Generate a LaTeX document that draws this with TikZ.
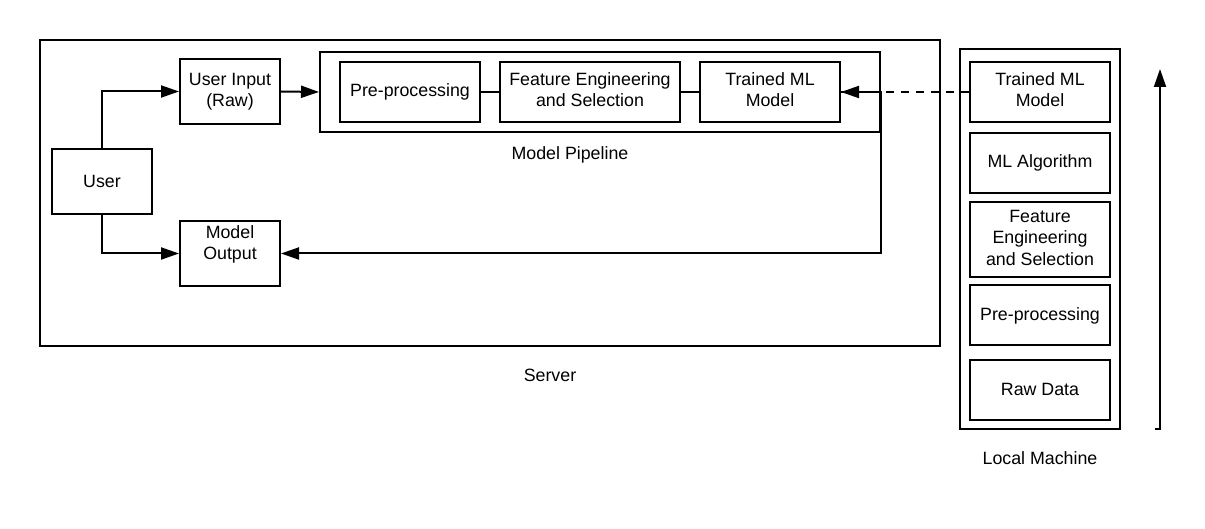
\documentclass[tikz,border=0pt]{standalone}
\usepackage{fontspec}
\setmainfont{Liberation Sans}
\usetikzlibrary{arrows.meta}
\begin{document}
\begin{tikzpicture}[x=1pt,y=-1pt,
  every node/.style={font=\fontsize{17.8}{21.5}\selectfont, align=center, inner sep=0pt},
  box/.style={draw, line width=2pt},
  arr/.style={line width=2pt, -{Triangle[length=18pt,width=12pt]}},
  conn/.style={line width=2pt},
  dashconn/.style={line width=2pt, dash pattern=on 8pt off 7pt, -{Triangle[length=18pt,width=12pt]}}]
\useasboundingbox (0,0) rectangle (1205,529);
\fill[white] (0,0) rectangle (1205,529);
% containers
\node[box, minimum width=900pt, minimum height=306pt] (server) at (490,193) {};
\node (serverlbl) at (550,375) {Server};
\node[box, minimum width=560pt, minimum height=80pt] (pipe) at (600,92) {};
\node (pipelbl) at (570,155) {Model Pipeline};
\node[box, minimum width=160pt, minimum height=380pt] (local) at (1040,239) {};
\node (locallbl) at (1040,458) {Local Machine};
% pipeline
\node[box, minimum width=140pt, minimum height=60pt] (pre) at (410,92) {Pre-processing};
\node[box, minimum width=180pt, minimum height=60pt,
  label={[name=featlbl, yshift=2.5pt]center:Feature Engineering\\and Selection}] (feat) at (590,92) {};
\node[box, minimum width=140pt, minimum height=60pt,
  label={[name=tmllbl, yshift=2.5pt]center:Trained ML\\Model}] (tml) at (770,92) {};
% user side
\node[box, minimum width=100pt, minimum height=65pt] (uin) at (230,91.5) {User Input\\(Raw)};
\node[box, minimum width=100pt, minimum height=65pt] (user) at (102,181.5) {User};
\node[box, minimum width=100pt, minimum height=65pt,
  label={[name=moutlbl, yshift=9pt]center:Model\\Output}] (mout) at (230,253.5) {};
% local machine stack
\node[box, minimum width=140pt, minimum height=60pt,
  label={[name=l5lbl, yshift=2.5pt]center:Trained ML\\Model}] (l5) at (1040,92) {};
\node[box, minimum width=140pt, minimum height=60pt] (l4) at (1040,163) {ML Algorithm};
\node[box, minimum width=140pt, minimum height=75pt,
  label={[name=l3lbl, yshift=2pt]center:Feature\\Engineering\\and Selection}] (l3) at (1040,239.5) {};
\node[box, minimum width=140pt, minimum height=60pt] (l2) at (1040,315.5) {Pre-processing};
\node[box, minimum width=140pt, minimum height=60pt] (l1) at (1040,389.5) {Raw Data};
% connectors
\draw[arr] (user.north) |- (uin.west);
\draw[arr] (user.south) |- (mout.west);
\draw[arr] (uin.east) -- (pipe.west);
\draw[conn] (pre.east) -- (feat.west);
\draw[conn] (feat.east) -- (tml.west);
\draw[arr] (tml.east) -- (pipe.east) |- (mout.east);
\draw[dashconn] (l5.west) -- (tml.east);
\coordinate (ab0) at (1155,429);
\coordinate (ab1) at (1160,429);
\coordinate (at) at (1160,69);
\draw[arr] (ab0) -- (ab1) -- (at);
\end{tikzpicture}
\end{document}
